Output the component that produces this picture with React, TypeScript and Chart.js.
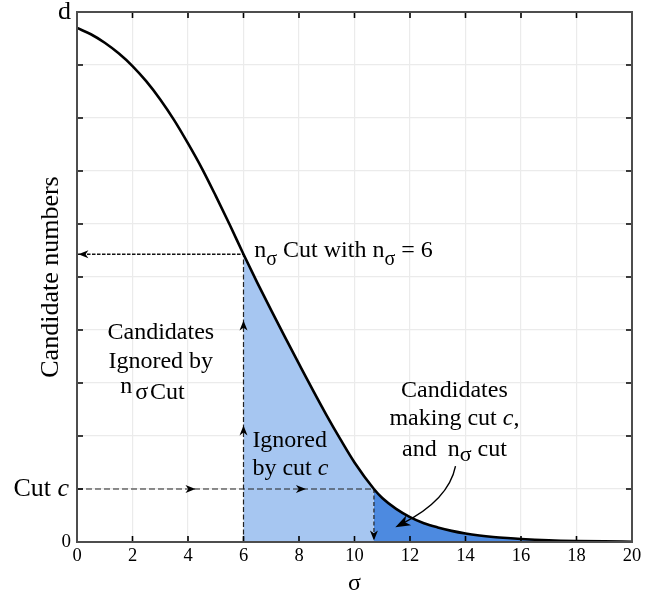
import React, { useEffect, useRef } from 'react';
import { Chart, registerables } from 'chart.js';

Chart.register(...registerables);

const FONT = '"Liberation Serif", "Times New Roman", Times, serif';

// σ along the curve and the candidate count at each σ (y axis runs 0 … d = 10)
const sigma = [0, 0.5, 1, 1.5, 2, 2.5, 3, 3.5, 4, 4.5, 5, 5.5, 6, 6.5, 7, 7.5, 8, 8.5, 9, 9.5, 10, 10.7, 11, 11.5, 12, 12.5, 13, 13.5, 14, 14.5, 15, 15.5, 16, 17, 18, 19, 20];
const candidates = [9.7, 9.58, 9.42, 9.22, 8.98, 8.69, 8.35, 7.96, 7.52, 7.05, 6.53, 5.99, 5.43, 4.89, 4.37, 3.86, 3.36, 2.865, 2.385, 1.93, 1.5, 1.0, 0.83, 0.625, 0.47, 0.355, 0.275, 0.21, 0.16, 0.123, 0.095, 0.074, 0.057, 0.033, 0.019, 0.011, 0.006];

// the two cuts
const nSigma = 6;
const nSigmaLevel = 5.43;
const cutSigma = 10.7;
const cutLevel = 1;

// labelled y ticks
const yTickValues = [0, 1, 10];
const yTickTexts = ['0', 'Cut c', 'd'];

const LIGHT = '#a6c6f1';
const DARK = '#4d8ae0';

const pts = (lo: number, hi: number) =>
  sigma
    .map((s, i) => ({ x: s, y: candidates[i] }))
    .filter((p) => p.x >= lo && p.x <= hi);

type Part = { t: string; size?: number; italic?: boolean; dy?: number; dx?: number };

function drawRich(ctx: CanvasRenderingContext2D, parts: Part[], x: number, y: number, align: 'left' | 'center' | 'right', base = 24) {
  const fontOf = (p: Part) => `${p.italic ? 'italic ' : ''}${p.size || base}px ${FONT}`;
  let total = 0;
  const widths = parts.map((p) => {
    ctx.font = fontOf(p);
    const w = ctx.measureText(p.t).width + (p.dx || 0);
    total += w;
    return w;
  });
  let cx = align === 'left' ? x : align === 'center' ? x - total / 2 : x - total;
  ctx.textAlign = 'left';
  ctx.textBaseline = 'alphabetic';
  parts.forEach((p, i) => {
    ctx.font = fontOf(p);
    ctx.fillText(p.t, cx + (p.dx || 0), y + (p.dy || 0));
    cx += widths[i];
  });
}

function arrowHead(ctx: CanvasRenderingContext2D, x: number, y: number, angle: number, len = 10, half = 4) {
  ctx.save();
  ctx.translate(x, y);
  ctx.rotate(angle);
  ctx.beginPath();
  ctx.moveTo(0, 0);
  ctx.lineTo(-len, half);
  ctx.lineTo(-len * 0.72, 0);
  ctx.lineTo(-len, -half);
  ctx.closePath();
  ctx.fillStyle = '#000';
  ctx.fill();
  ctx.restore();
}

const annotations = {
  id: 'annotations',
  afterDraw(chart: any) {
    const { ctx, chartArea } = chart;
    const xs = chart.scales.x;
    const ys = chart.scales.y;
    const X = (v: number) => xs.getPixelForValue(v);
    const Y = (v: number) => ys.getPixelForValue(v);
    const { left, right, top, bottom } = chartArea;

    ctx.save();

    // arrowheads on the dashed guide lines
    arrowHead(ctx, X(0.05), Y(nSigmaLevel), Math.PI);
    arrowHead(ctx, X(nSigma), Y(4.18), -Math.PI / 2);
    arrowHead(ctx, X(nSigma), Y(2.2), -Math.PI / 2);
    arrowHead(ctx, X(4.27), Y(cutLevel), 0);
    arrowHead(ctx, X(8.25), Y(cutLevel), 0);
    arrowHead(ctx, X(cutSigma), Y(0.03), Math.PI / 2);

    // curved pointer into the passing region
    const p0 = { x: X(13.64), y: Y(1.43) };
    const c = { x: X(13.39), y: Y(0.79) };
    const p2 = { x: X(11.47), y: Y(0.28) };
    const ang = Math.atan2(p2.y - c.y, p2.x - c.x);
    ctx.beginPath();
    ctx.moveTo(p0.x, p0.y);
    ctx.quadraticCurveTo(c.x, c.y, p2.x - Math.cos(ang) * 8, p2.y - Math.sin(ang) * 8);
    ctx.strokeStyle = '#000';
    ctx.lineWidth = 1.4;
    ctx.stroke();
    arrowHead(ctx, p2.x, p2.y, ang, 15, 5.5);

    // frame and inward tick marks
    ctx.strokeStyle = '#000';
    ctx.lineWidth = 1.6;
    ctx.beginPath();
    for (let v = 2; v < 20; v += 2) {
      const px = X(v);
      ctx.moveTo(px, bottom);
      ctx.lineTo(px, bottom - 6);
      ctx.moveTo(px, top);
      ctx.lineTo(px, top + 6);
    }
    for (let v = 1; v < 10; v += 1) {
      const py = Y(v);
      ctx.moveTo(left, py);
      ctx.lineTo(left + 6, py);
      ctx.moveTo(right, py);
      ctx.lineTo(right - 6, py);
    }
    ctx.stroke();
    ctx.strokeStyle = '#4d4d4d';
    ctx.lineWidth = 2;
    ctx.strokeRect(left, top, right - left, bottom - top);

    // "Cut c" tick label
    ctx.fillStyle = '#000';
    drawRich(ctx, [{ t: 'Cut ' }, { t: 'c', italic: true }], left - 8, Y(yTickValues[1]) + 7, 'right', 26);

    // text annotations
    drawRich(ctx, [{ t: 'n' }, { t: 'σ', size: 20, dy: 8 }, { t: ' Cut with n' }, { t: 'σ', size: 20, dy: 8 }, { t: ' = 6' }], X(6.39), Y(5.38), 'left');

    drawRich(ctx, [{ t: 'Candidates' }], X(3.02), Y(3.83), 'center');
    drawRich(ctx, [{ t: 'Ignored by' }], X(3.02), Y(3.28), 'center');
    drawRich(ctx, [{ t: 'n', dy: -6 }, { t: 'σ', dx: 3 }, { t: 'Cut', dx: 2 }], X(2.72), Y(2.7), 'center');

    drawRich(ctx, [{ t: 'Ignored' }], X(6.32), Y(1.8), 'left');
    drawRich(ctx, [{ t: 'by cut ' }, { t: 'c', italic: true }], X(6.32), Y(1.26), 'left');

    drawRich(ctx, [{ t: 'Candidates' }], X(13.6), Y(2.74), 'center');
    drawRich(ctx, [{ t: 'making cut ' }, { t: 'c', italic: true }, { t: ',' }], X(13.6), Y(2.21), 'center');
    drawRich(ctx, [{ t: 'and ' }, { t: 'n', dx: 5 }, { t: 'σ', size: 22, dy: 5 }, { t: ' cut' }], X(13.6), Y(1.63), 'center');

    ctx.restore();
  },
};

export default function App() {
  const ref = useRef<HTMLCanvasElement | null>(null);

  useEffect(() => {
    if (!ref.current) return;
    const chart = new Chart(ref.current, {
      type: 'line',
      data: {
        datasets: [
          {
            label: 'candidates',
            data: pts(0, 20),
            borderColor: '#000',
            borderWidth: 2.6,
            pointRadius: 0,
            cubicInterpolationMode: 'monotone',
            fill: false,
          },
          {
            label: 'n-sigma level',
            data: [{ x: 0, y: nSigmaLevel }, { x: nSigma, y: nSigmaLevel }],
            borderColor: '#111',
            borderWidth: 1.4,
            borderDash: [3.5, 1.5],
            pointRadius: 0,
            fill: false,
          },
          {
            label: 'n-sigma drop',
            data: [{ x: nSigma, y: 0 }, { x: nSigma, y: nSigmaLevel }],
            borderColor: '#222',
            borderWidth: 1.2,
            borderDash: [5, 2.5],
            pointRadius: 0,
            fill: false,
          },
          {
            label: 'cut level',
            data: [{ x: 0, y: cutLevel }, { x: cutSigma, y: cutLevel }],
            borderColor: '#222',
            borderWidth: 1.2,
            borderDash: [6, 3],
            pointRadius: 0,
            fill: false,
          },
          {
            label: 'cut drop',
            data: [{ x: cutSigma, y: cutLevel }, { x: cutSigma, y: 0 }],
            borderColor: '#222',
            borderWidth: 1.2,
            borderDash: [4, 2.5],
            pointRadius: 0,
            fill: false,
          },
          {
            label: 'ignored by cut c',
            data: pts(nSigma, cutSigma),
            borderWidth: 0,
            borderColor: 'rgba(0,0,0,0)',
            backgroundColor: LIGHT,
            pointRadius: 0,
            cubicInterpolationMode: 'monotone',
            fill: 'origin',
          },
          {
            label: 'making both cuts',
            data: pts(cutSigma, 20),
            borderWidth: 0,
            borderColor: 'rgba(0,0,0,0)',
            backgroundColor: DARK,
            pointRadius: 0,
            cubicInterpolationMode: 'monotone',
            fill: 'origin',
          },
        ],
      },
      options: {
        responsive: false,
        animation: false,
        devicePixelRatio: 1,
        layout: { padding: { top: 12, right: 35, left: 0, bottom: 0 } },
        plugins: { legend: { display: false }, tooltip: { enabled: false } },
        scales: {
          x: {
            type: 'linear',
            min: 0,
            max: 20,
            border: { display: false },
            grid: { color: '#ebebeb', lineWidth: 1.2, drawTicks: false },
            ticks: {
              stepSize: 2,
              padding: 3,
              color: '#000',
              font: { family: FONT, size: 18.5 },
              maxRotation: 0,
            },
            title: {
              display: true,
              text: 'σ',
              color: '#000',
              font: { family: FONT, size: 24, lineHeight: 1 },
              padding: { top: 0, bottom: 0 },
            },
            afterFit: (s: any) => {
              s.height = 54;
              s.paddingLeft = 0;
              s.paddingRight = 0;
            },
          },
          y: {
            type: 'linear',
            min: 0,
            max: 10,
            border: { display: false },
            grid: { color: '#ebebeb', lineWidth: 1.2, drawTicks: false },
            ticks: {
              stepSize: 1,
              padding: 6,
              color: '#000',
              font: (c: any) => ({
                family: FONT,
                size: c.tick && c.tick.value === 0 ? 19 : 26,
                lineHeight: 0.9,
              }),
              callback: (v: any) => {
                const i = yTickValues.indexOf(Number(v));
                return i === 0 || i === 2 ? yTickTexts[i] : '';
              },
            },
            title: {
              display: true,
              text: 'Candidate numbers',
              color: '#000',
              font: { family: FONT, size: 26, lineHeight: 1.2 },
              padding: { top: 36, bottom: 0 },
            },
            afterFit: (s: any) => {
              s.width = 77;
              s.paddingTop = 0;
              s.paddingBottom = 0;
            },
          },
        },
      },
      plugins: [annotations],
    } as any);
    return () => chart.destroy();
  }, []);

  return (
    <div style={{ position: 'absolute', left: 0, top: 0, width: 667, height: 596, background: '#fff' }}>
      <canvas ref={ref} width={667} height={596} style={{ display: 'block' }} />
    </div>
  );
}
